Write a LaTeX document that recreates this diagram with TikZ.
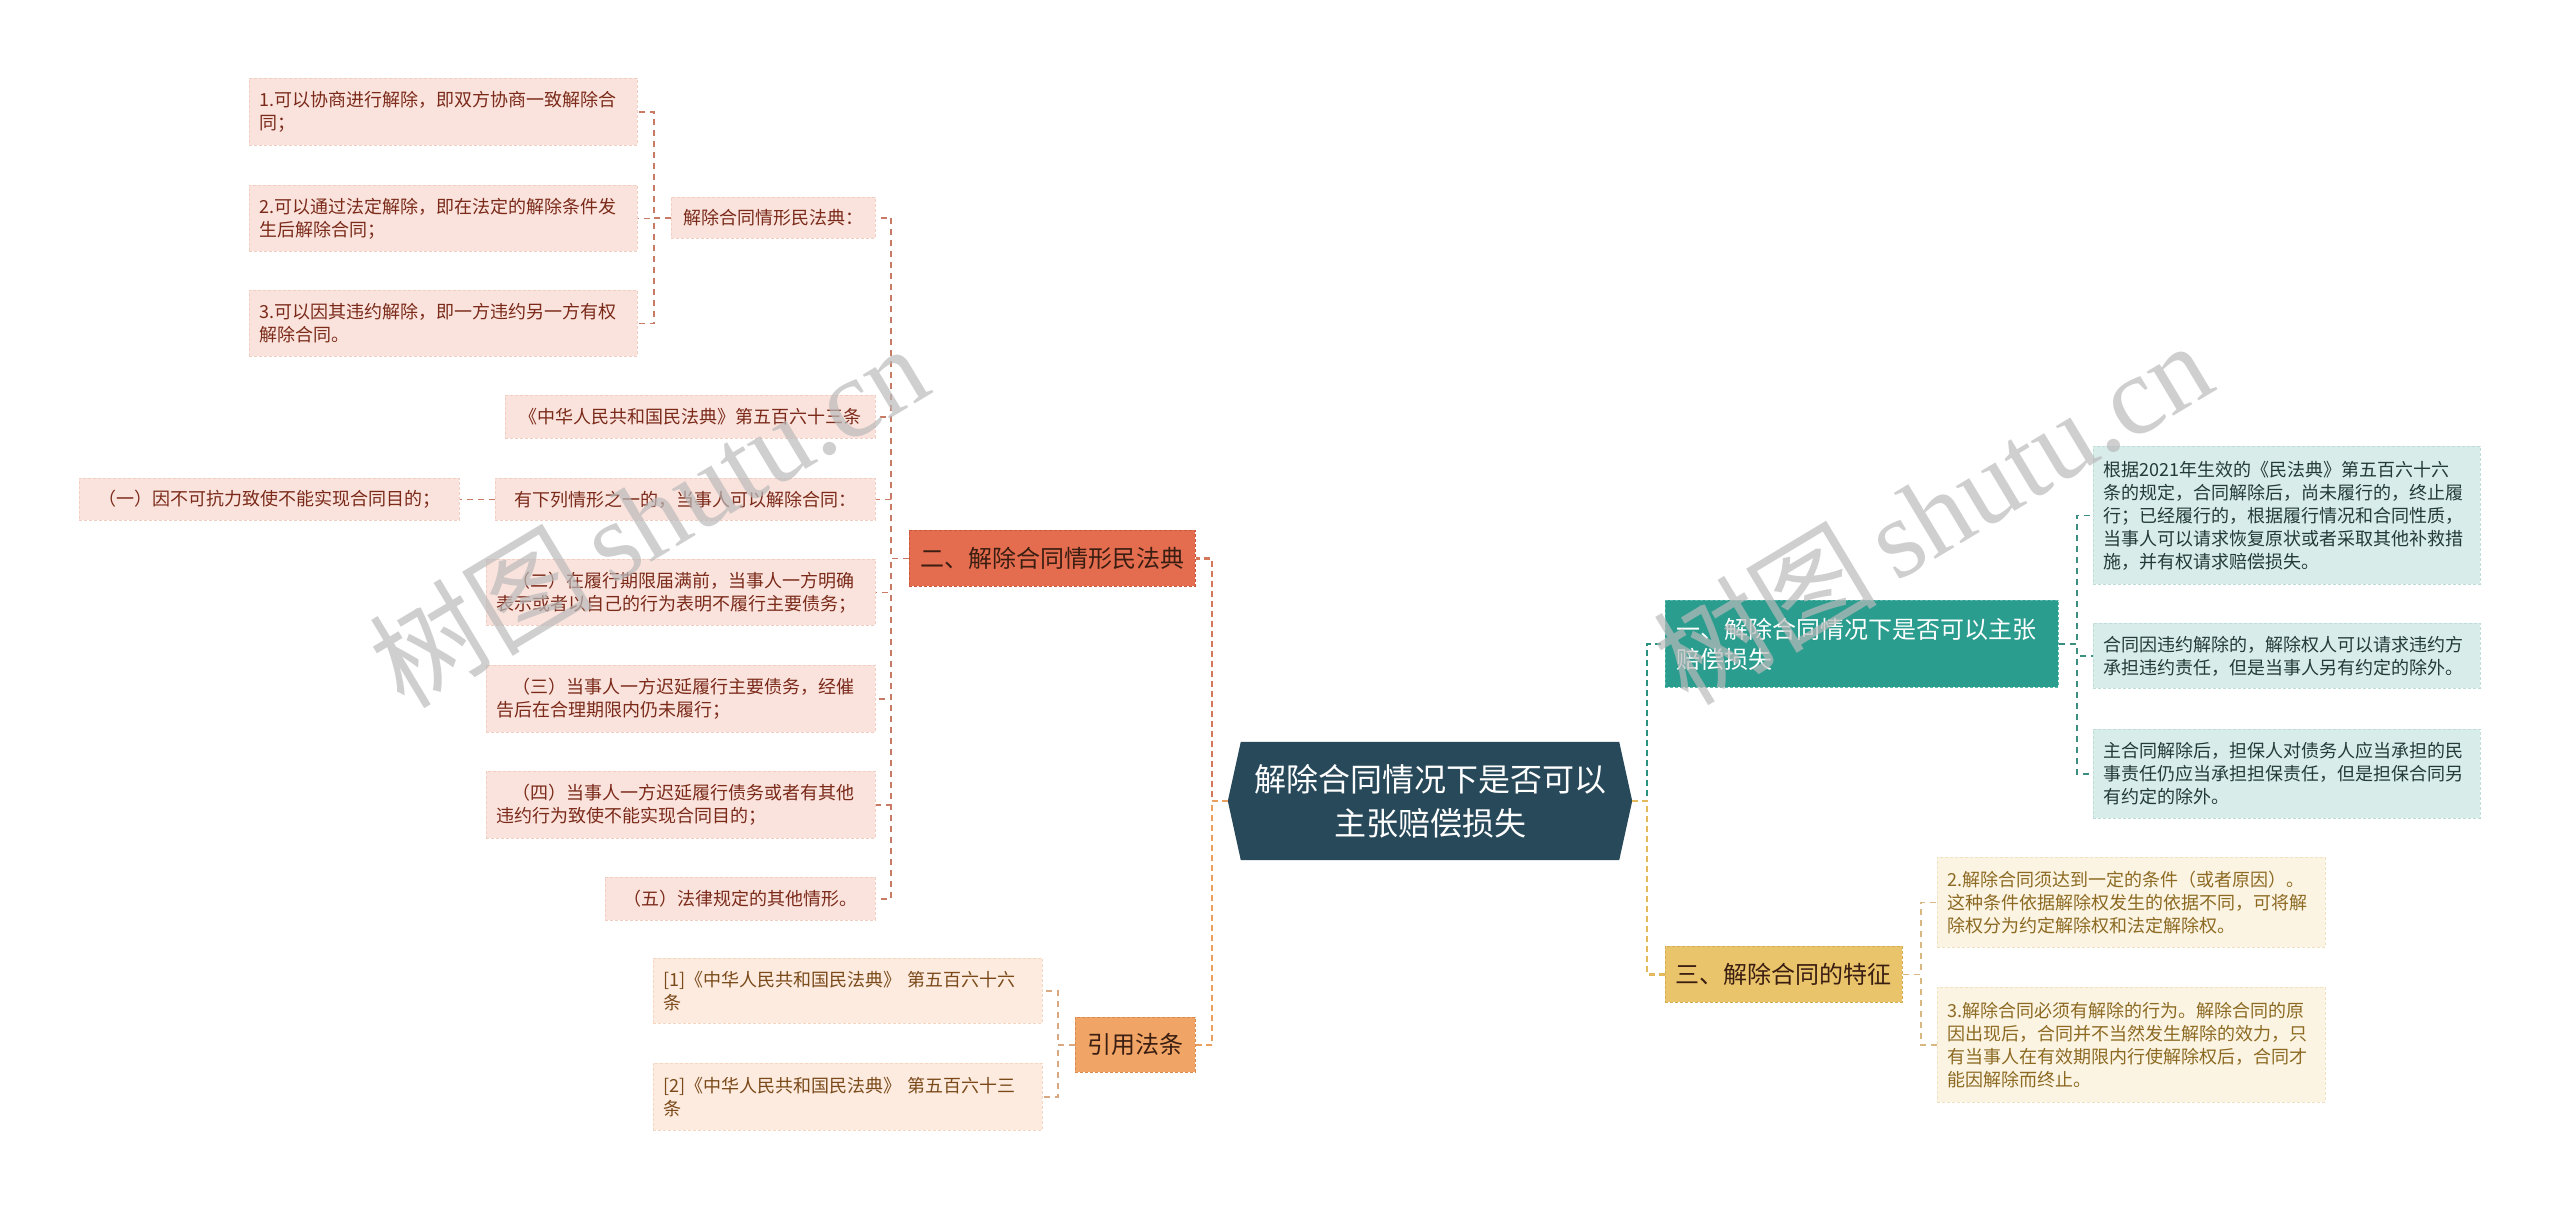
\documentclass[tikz,border=0pt]{standalone}
\usepackage{fontspec}
\setmainfont{Noto Sans CJK SC}
\newfontfamily\wmlatin{Liberation Serif}
\usetikzlibrary{backgrounds}
\definecolor{cfill}{HTML}{28495A}
\definecolor{redf}{HTML}{E56D4F}\definecolor{redb}{HTML}{C9573B}
\definecolor{orf}{HTML}{F0A465}\definecolor{orb}{HTML}{D98A4C}
\definecolor{tlf}{HTML}{2A9D8F}\definecolor{tlb}{HTML}{5BB8AC}
\definecolor{gdf}{HTML}{E9C46A}\definecolor{gdb}{HTML}{D4AC52}
\definecolor{pkf}{HTML}{FAE3DC}\definecolor{pkb}{HTML}{F2CDC2}\definecolor{pkt}{HTML}{7B2A1A}
\definecolor{pef}{HTML}{FDEBDF}\definecolor{peb}{HTML}{F5D6C0}\definecolor{pet}{HTML}{7A4A1A}
\definecolor{ltf}{HTML}{D8ECEA}\definecolor{ltb}{HTML}{BEDDD9}\definecolor{ltt}{HTML}{233B38}
\definecolor{crf}{HTML}{FCF4E2}\definecolor{crb}{HTML}{F0E2C0}\definecolor{crt}{HTML}{8C6A23}
\definecolor{dtx}{HTML}{3B1E12}
\definecolor{lnR}{HTML}{D4775A}\definecolor{lnO}{HTML}{E9A05E}
\definecolor{lnT}{HTML}{2A9080}\definecolor{lnG}{HTML}{E3B95C}
\definecolor{lkR}{HTML}{C97A64}\definecolor{lkO}{HTML}{D9A880}
\definecolor{lkT}{HTML}{3A8F80}\definecolor{lkG}{HTML}{D8B880}
\begin{document}
\begin{tikzpicture}[x=1pt,y=-1pt,
  base/.style={rectangle, anchor=north west, inner ysep=0pt, line width=0.8pt, dash pattern=on 3pt off 2pt},
  leaf/.style={base, inner xsep=10pt, align=left, font=\fontsize{18}{23}\selectfont},
  lfL/.style={leaf, fill=pkf, draw=pkb, text=pkt},
  lfO/.style={leaf, fill=pef, draw=peb, text=pet},
  lfT/.style={leaf, fill=ltf, draw=ltb, text=ltt},
  lfG/.style={leaf, fill=crf, draw=crb, text=crt},
  mid/.style={base, inner xsep=5pt, align=center, font=\fontsize{24}{30}\selectfont},
  trunk/.style={line width=2.4pt, dash pattern=on 6pt off 4pt},
  twig/.style={line width=1.6pt, dash pattern=on 6pt off 5pt},
  wm/.style={text=black!27, opacity=0.7, font=\fontsize{112}{120}\selectfont, inner sep=0pt}
]
\useasboundingbox (0,0) rectangle (2560,1209);

% central node
\node[rectangle, inner sep=0pt, minimum width=404pt, minimum height=118pt, text width=380pt, align=center,
  text=white, font=\fontsize{32}{44}\selectfont] (C) at (1430,801) {解除合同情况下是否可以\\主张赔偿损失};
\begin{scope}[on background layer]
\fill[cfill] ([xshift=13pt]C.north west) -- ([xshift=-13pt]C.north east) -- (C.east)
  -- ([xshift=-13pt]C.south east) -- ([xshift=13pt]C.south west) -- (C.west) -- cycle;
\end{scope}

% level 1
\node[mid, fill=redf, draw=redb, text=dtx, text width=276pt, minimum height=56pt] (B2) at (909,530) {二、解除合同情形民法典};
\node[mid, fill=orf, draw=orb, text=dtx, text width=110pt, minimum height=55pt] (B4) at (1075,1017) {引用法条};
\node[mid, fill=tlf, draw=tlb, text=white, align=left, inner xsep=11pt, text width=371pt, minimum height=87pt] (R1) at (1665,600) {一、解除合同情况下是否可以主张\\赔偿损失};
\node[mid, fill=gdf, draw=gdb, text=dtx, text width=227pt, minimum height=56pt] (R3) at (1665,946) {三、解除合同的特征};

% left leaves
\node[lfL, text width=368pt, minimum height=67pt] (L1) at (249,78) {1.可以协商进行解除，即双方协商一致解除合\\同；};
\node[lfL, text width=368pt, minimum height=66pt] (L2) at (249,185) {2.可以通过法定解除，即在法定的解除条件发\\生后解除合同；};
\node[lfL, text width=368pt, minimum height=66pt] (L3) at (249,290) {3.可以因其违约解除，即一方违约另一方有权\\解除合同。};
\node[lfL, align=center, text width=184pt, minimum height=41pt] (LH) at (671,197) {解除合同情形民法典：};
\node[lfL, align=center, text width=350pt, minimum height=43pt] (LA) at (505,395) {《中华人民共和国民法典》第五百六十三条};
\node[lfL, align=center, text width=360pt, minimum height=42pt] (LB) at (495,478) {有下列情形之一的，当事人可以解除合同：};
\node[lfL, align=center, text width=360pt, minimum height=42pt] (LB1) at (79,478) {（一）因不可抗力致使不能实现合同目的；};
\node[lfL, text width=369pt, minimum height=66pt] (LC) at (486,559) {\hspace*{16pt}（二）在履行期限届满前，当事人一方明确\\表示或者以自己的行为表明不履行主要债务；};
\node[lfL, text width=369pt, minimum height=67pt] (LD) at (486,665) {\hspace*{16pt}（三）当事人一方迟延履行主要债务，经催\\告后在合理期限内仍未履行；};
\node[lfL, text width=369pt, minimum height=67pt] (LE) at (486,771) {\hspace*{16pt}（四）当事人一方迟延履行债务或者有其他\\违约行为致使不能实现合同目的；};
\node[lfL, align=center, text width=250pt, minimum height=43pt] (LF) at (605,877) {（五）法律规定的其他情形。};

% citation leaves
\node[lfO, text width=369pt, minimum height=65pt] (C1) at (653,958) {[1]《中华人民共和国民法典》~第五百六十六\\条};
\node[lfO, text width=369pt, minimum height=67pt] (C2) at (653,1063) {[2]《中华人民共和国民法典》~第五百六十三\\条};

% right leaves
\node[lfT, text width=367pt, minimum height=138pt] (T1) at (2093,446) {根据2021年生效的《民法典》第五百六十六\\条的规定，合同解除后，尚未履行的，终止履\\行；已经履行的，根据履行情况和合同性质，\\当事人可以请求恢复原状或者采取其他补救措\\施，并有权请求赔偿损失。};
\node[lfT, text width=367pt, minimum height=65pt] (T2) at (2093,623) {合同因违约解除的，解除权人可以请求违约方\\承担违约责任，但是当事人另有约定的除外。};
\node[lfT, text width=367pt, minimum height=89pt] (T3) at (2093,729) {主合同解除后，担保人对债务人应当承担的民\\事责任仍应当承担担保责任，但是担保合同另\\有约定的除外。};
\node[lfG, text width=368pt, minimum height=90pt] (G1) at (1937,857) {2.解除合同须达到一定的条件（或者原因）。\\这种条件依据解除权发生的依据不同，可将解\\除权分为约定解除权和法定解除权。};
\node[lfG, text width=368pt, minimum height=115pt] (G2) at (1937,987) {3.解除合同必须有解除的行为。解除合同的原\\因出现后，合同并不当然发生解除的效力，只\\有当事人在有效期限内行使解除权后，合同才\\能因解除而终止。};

% trunk connectors
\draw[trunk, lnR] (C.west) -- ++(-16,0) |- (B2.east);
\draw[trunk, lnO] (C.west) -- ++(-16,0) |- (B4.east);
\draw[trunk, lnT] (C.east) -- ++(15,0) |- (R1.west);
\draw[trunk, lnG] (C.east) -- ++(15,0) |- (R3.west);

% branch connectors
\foreach \n in {LH,LA,LB,LC,LD,LE,LF}
  \draw[twig, lkR] (B2.west) -- ++(-18,0) |- (\n.east);
\foreach \n in {L1,L2,L3}
  \draw[twig, lkR] (LH.west) -- ++(-17,0) |- (\n.east);
\draw[twig, lkR] (LB.west) -- (LB1.east);
\foreach \n in {C1,C2}
  \draw[twig, lkO] (B4.west) -- ++(-17,0) |- (\n.east);
\foreach \n in {T1,T2,T3}
  \draw[twig, lkT] (R1.east) -- ++(18,0) |- (\n.west);
\foreach \n in {G1,G2}
  \draw[twig, lkG] (R3.east) -- ++(18,0) |- (\n.west);

% watermark
\node[wm, rotate=31] (W1) at (648,515) {树图\,{\wmlatin shutu.cn}};
\node[wm, rotate=31] (W2) at (1932,512) {树图\,{\wmlatin shutu.cn}};
\end{tikzpicture}
\end{document}
